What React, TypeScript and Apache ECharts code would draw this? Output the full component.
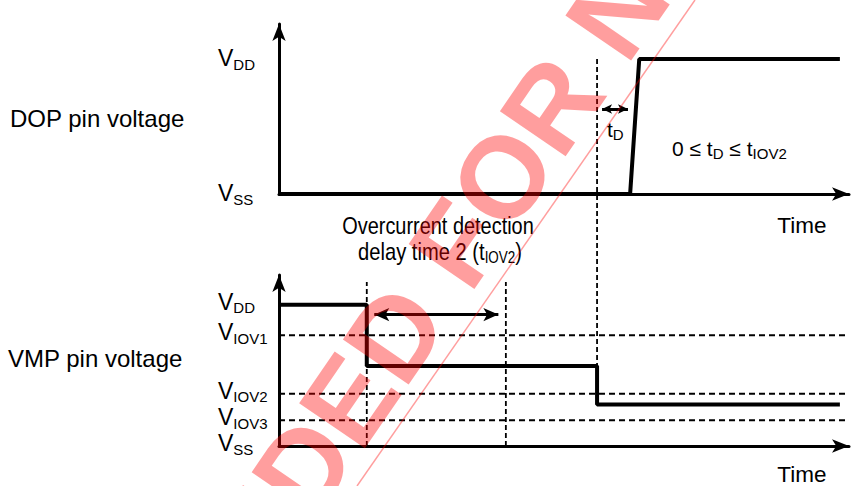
import React, { useEffect, useRef } from 'react';
import * as echarts from 'echarts';

const FONT = '"Liberation Sans", Arial, Helvetica, sans-serif';

// ---- data (time in arbitrary units 0..100, voltages in arbitrary units) ----
const TIME_MAX = 100;
const TOP_V_MAX = 6.3;
const BOT_V_MAX = 6.05;

const DOP_TIME = [0, 61.6, 63.2, 98.4];
const DOP_LEVEL = [0, 0, 5, 5];

const VMP_TIME = [0, 15.4, 15.4, 55.8, 55.8, 98.4];
const VMP_LEVEL = [5, 5, 2.83, 2.83, 1.47, 1.47];

const TOP_TICKS = [0, 5];
const TOP_TICK_SUBS = ['SS', 'DD'];
const BOT_TICKS = [0, 0.91, 1.85, 3.92, 5];
const BOT_TICK_SUBS = ['SS', 'IOV3', 'IOV2', 'IOV1', 'DD'];
const THRESHOLD_LEVELS = [3.92, 1.85, 0.91];

const T_DETECT = 15.4;
const T_DELAY_END = 39.8;
const T_RELEASE = 55.8;
const T_DOP_EDGE = 62.1;
const TD_ARROW_LEVEL = 3.15;
const TIOV_ARROW_LEVEL = 4.65;
const BOT_GUIDE_TOP = 5.8;
const VMP_MID = 2.83;

// ---- layout ----
const GRID_LEFT = 279;
const GRID_W = 570;
const TOP_GRID = { top: 24, height: 170 };
const BOT_GRID = { top: 275, height: 173 };
const PX_PER_T = GRID_W / TIME_MAX;

// value in the top grid that lands on VMP_MID level of the bottom grid
const botMidPx = BOT_GRID.top + (BOT_V_MAX - VMP_MID) * (BOT_GRID.height / BOT_V_MAX);
const guideBottomTop = (TOP_GRID.top + TOP_GRID.height - botMidPx) / (TOP_GRID.height / TOP_V_MAX);

const zip = (xs: number[], ys: number[]) => xs.map((x, i) => [x, ys[i]]);

const subLabel = (ticks: number[], subs: string[]) => (v: number) => {
  const i = ticks.findIndex((t) => Math.abs(t - v) < 1e-6);
  return i < 0 ? '' : `{v|V}{s|${subs[i]}}`;
};

const labelRich = (lift: number) => ({
  v: { fontFamily: FONT, fontSize: 23, color: '#000', padding: [0, 0, lift, 0] },
  s: { fontFamily: FONT, fontSize: 15, color: '#000', padding: [12 - lift, 0, 0, 0] },
});

const BLACK = '#000';
const WM = 'rgba(255,0,0,0.38)';

const xAxisBase = (gridIndex: number, namePad: number) => ({
  gridIndex,
  type: 'value',
  min: 0,
  max: TIME_MAX,
  axisLine: { show: true, symbol: ['none', 'arrow'], symbolSize: [10, 17], lineStyle: { color: BLACK, width: 3 } },
  axisTick: { show: false },
  axisLabel: { show: false },
  splitLine: { show: false },
  name: 'Time',
  nameLocation: 'end',
  nameGap: -22.5,
  nameTextStyle: { fontFamily: FONT, fontSize: 22.5, color: BLACK, align: 'right', verticalAlign: 'top', padding: [namePad, 0, 0, 0] },
});

const dashedH = { color: BLACK, width: 2, type: [6, 4] };
const dashedV = { color: BLACK, width: 1.8, type: [5, 3] };

function arrowLine(t0: number, t1: number, level: number, size: number[]) {
  const inset = size[1] / 2 / PX_PER_T;
  return {
    silent: true,
    animation: false,
    symbol: ['arrow', 'arrow'],
    symbolSize: size,
    label: { show: false },
    emphasis: { disabled: true },
    lineStyle: { color: BLACK, width: 3, type: 'solid' },
    data: [[{ coord: [t0 + inset, level] }, { coord: [t1 - inset, level] }]],
  };
}

export default function App() {
  const ref = useRef<HTMLDivElement>(null);
  useEffect(() => {
    if (!ref.current) return;
    const chart = echarts.init(ref.current, null, { renderer: 'svg' });
    const option: any = {
      animation: false,
      backgroundColor: '#fff',
      grid: [
        { left: GRID_LEFT, width: GRID_W, top: TOP_GRID.top, height: TOP_GRID.height },
        { left: GRID_LEFT, width: GRID_W, top: BOT_GRID.top, height: BOT_GRID.height },
      ],
      xAxis: [xAxisBase(0, 20), xAxisBase(1, 17)],
      yAxis: [
        {
          gridIndex: 0, type: 'value', min: 0, max: TOP_V_MAX,
          axisLine: { show: true, onZero: false, symbol: ['none', 'arrow'], symbolSize: [10, 17], lineStyle: { color: BLACK, width: 3 } },
          axisTick: { show: false }, splitLine: { show: false },
          axisLabel: { customValues: TOP_TICKS, formatter: subLabel(TOP_TICKS, TOP_TICK_SUBS), align: 'left', margin: 61, rich: labelRich(2) },
        },
        {
          gridIndex: 1, type: 'value', min: 0, max: BOT_V_MAX,
          axisLine: { show: true, onZero: false, symbol: ['none', 'arrow'], symbolSize: [10, 17], lineStyle: { color: BLACK, width: 3 } },
          axisTick: { show: false }, splitLine: { show: false },
          axisLabel: { customValues: BOT_TICKS, formatter: subLabel(BOT_TICKS, BOT_TICK_SUBS), align: 'left', margin: 61, rich: labelRich(6) },
        },
      ],
      series: [
        {
          name: 'DOP', type: 'line', xAxisIndex: 0, yAxisIndex: 0, data: zip(DOP_TIME, DOP_LEVEL),
          symbol: 'none', clip: false, z: 5, lineStyle: { color: BLACK, width: 4 },
        },
        {
          name: 'release guide', type: 'line', xAxisIndex: 0, yAxisIndex: 0,
          data: [[T_RELEASE, DOP_LEVEL[3]], [T_RELEASE, guideBottomTop]],
          symbol: 'none', clip: false, z: 3, lineStyle: dashedV,
          markLine: arrowLine(T_RELEASE, T_DOP_EDGE, TD_ARROW_LEVEL, [7, 10]),
        },
        {
          name: 'VMP', type: 'line', xAxisIndex: 1, yAxisIndex: 1, data: zip(VMP_TIME, VMP_LEVEL),
          symbol: 'none', clip: false, z: 5, lineStyle: { color: BLACK, width: 4 },
        },
        ...THRESHOLD_LEVELS.map((lv) => ({
          type: 'line', xAxisIndex: 1, yAxisIndex: 1, data: [[0, lv], [TIME_MAX, lv]],
          symbol: 'none', clip: false, z: 3, lineStyle: dashedH,
        })),
        ...[T_DETECT, T_DELAY_END].map((t, i) => ({
          type: 'line', xAxisIndex: 1, yAxisIndex: 1, data: [[t, 0], [t, BOT_GUIDE_TOP]],
          symbol: 'none', clip: false, z: 3, lineStyle: dashedV,
          markLine: i === 0 ? arrowLine(T_DETECT, T_DELAY_END, TIOV_ARROW_LEVEL, [10, 15]) : undefined,
        })),
      ],
      graphic: [
        { type: 'text', x: 10, y: 118, style: { text: 'DOP pin voltage', fontFamily: FONT, fontSize: 24, fill: BLACK, verticalAlign: 'middle' } },
        { type: 'text', x: 8, y: 358, style: { text: 'VMP pin voltage', fontFamily: FONT, fontSize: 24, fill: BLACK, verticalAlign: 'middle' } },
        { type: 'text', x: 438, y: 226, scaleX: 0.83, style: { text: 'Overcurrent detection', fontFamily: FONT, fontSize: 24, fill: BLACK, align: 'center', verticalAlign: 'middle' } },
        {
          type: 'text', x: 440, y: 252, scaleX: 0.84,
          style: {
            text: '{a|delay time 2 (t}{s|IOV2}{a|)}', align: 'center', verticalAlign: 'middle',
            rich: { a: { fontFamily: FONT, fontSize: 24, color: BLACK }, s: { fontFamily: FONT, fontSize: 16, color: BLACK, padding: [12, 0, 0, 0] } },
          },
        },
        {
          type: 'text', x: 607, y: 129,
          style: {
            text: '{a|t}{s|D}', verticalAlign: 'middle',
            rich: { a: { fontFamily: FONT, fontSize: 21, color: BLACK }, s: { fontFamily: FONT, fontSize: 15, color: BLACK, padding: [10, 0, 0, 0] } },
          },
        },
        {
          type: 'text', x: 672, y: 148,
          style: {
            text: '{a|0 ≤ t}{s|D}{a| ≤ t}{s|IOV2}', verticalAlign: 'middle',
            rich: { a: { fontFamily: FONT, fontSize: 21, color: BLACK }, s: { fontFamily: FONT, fontSize: 15, color: BLACK, padding: [10, 0, 0, 0] } },
          },
        },
        {
          type: 'line', z: 100, silent: true,
          shape: { x1: 357, y1: 486, x2: 695, y2: 0 },
          style: { stroke: WM, lineWidth: 1.5 },
        },
        {
          type: 'text', z: 101, silent: true, x: 375, y: 363, rotation: (55.5 * Math.PI) / 180,
          style: { text: 'NOT RECOMMENDED FOR NEW DESIGN', fontFamily: FONT, fontWeight: 'bold', fontSize: 116, fill: WM, align: 'center', verticalAlign: 'middle' },
        },
      ],
    };
    chart.setOption(option);
    return () => chart.dispose();
  }, []);
  return <div ref={ref} style={{ position: 'fixed', left: 0, top: 0, width: 854, height: 486 }} />;
}
